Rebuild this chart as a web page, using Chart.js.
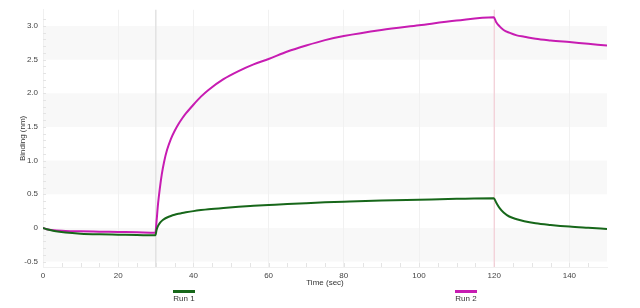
<!DOCTYPE html>
<html>
<head>
<meta charset="utf-8">
<script src="https://cdn.jsdelivr.net/npm/chart.js@4/dist/chart.umd.min.js"></script>
<style>
  html, body { margin: 0; padding: 0; background: #fff; }
  #wrap { width: 640px; height: 308px; position: relative; }
</style>
</head>
<body>
<div id="wrap"><canvas id="chart"></canvas></div>
<script>
//////////////// DATA
const timeSec = [0, 1, 3, 6, 10, 15, 20, 25, 29.9, 30.2, 30.6, 31.1, 31.6, 32.2, 33, 34, 35, 36, 37, 38, 40, 42, 44, 48, 52, 56, 60,
  65, 70, 75, 80, 90, 100, 110, 119.9, 120.5, 121.5, 122.5, 124, 126, 128, 131, 135, 140, 145, 150];

const run1 = [0, -0.02, -0.045, -0.068, -0.085, -0.095, -0.1, -0.105, -0.11, -0.03, 0.03, 0.075, 0.105, 0.13, 0.155, 0.178, 0.196,
  0.21, 0.222, 0.232, 0.25, 0.265, 0.278, 0.298, 0.315, 0.328, 0.34, 0.355, 0.368, 0.38, 0.39, 0.408, 0.42, 0.432, 0.44,
  0.38, 0.29, 0.23, 0.17, 0.13, 0.1, 0.07, 0.045, 0.02, 0.002, -0.015];

const run2 = [0, -0.02, -0.035, -0.045, -0.05, -0.055, -0.06, -0.065, -0.07, 0.1, 0.36, 0.6, 0.8, 0.98, 1.16, 1.32, 1.44,
  1.54, 1.625, 1.7, 1.83, 1.95, 2.05, 2.21, 2.33, 2.43, 2.51, 2.62, 2.71, 2.79, 2.85, 2.94, 3.01, 3.08, 3.13,
  3.06, 2.99, 2.94, 2.9, 2.86, 2.84, 2.81, 2.785, 2.76, 2.735, 2.71];

const seriesNames = ['Run 1', 'Run 2'];
const seriesColors = ['#17671a', '#c71cb2'];

const xTicks = [0, 20, 40, 60, 80, 100, 120, 140];
const yTicks = [-0.5, 0, 0.5, 1.0, 1.5, 2.0, 2.5, 3.0];
const markerTimes = [30, 120];
const markerColors = ['#e2e2e2', '#f3c6cf'];

//////////////// HELPERS
function toPoints(values) {
  return values.map((v, i) => ({ x: timeSec[i], y: v }));
}

const font = { family: 'Liberation Sans, Arial, sans-serif', size: 8 };

//////////////// PLUGINS
const backdrop = {
  id: 'backdrop',
  beforeDraw(chart) {
    const { ctx, chartArea, scales } = chart;
    const y = scales.y;
    ctx.save();
    ctx.fillStyle = '#f8f8f8';
    // grey bands between k-0.5 and k
    [3.0, 2.0, 1.0, 0].forEach(top => {
      const yTop = y.getPixelForValue(top);
      const yBot = y.getPixelForValue(top - 0.5);
      ctx.fillRect(chartArea.left, yTop, chartArea.right - chartArea.left, yBot - yTop);
    });
    ctx.restore();
  },
  beforeDatasetsDraw(chart) {
    const { ctx, chartArea, scales } = chart;
    const x = scales.x, y = scales.y;
    ctx.save();
    // minor ticks along the bottom and left edge
    ctx.strokeStyle = '#e4e4e4';
    ctx.lineWidth = 1;
    ctx.beginPath();
    for (let t = 5; t < 150; t += 5) {
      const px = Math.round(x.getPixelForValue(t)) + 0.5;
      ctx.moveTo(px, chartArea.bottom);
      ctx.lineTo(px, chartArea.bottom - 4);
    }
    for (let v = -0.5; v <= 3.2; v += 0.1) {
      const py = Math.round(y.getPixelForValue(v)) + 0.5;
      ctx.moveTo(chartArea.left, py);
      ctx.lineTo(chartArea.left + 3, py);
    }
    ctx.stroke();
    // step markers
    markerTimes.forEach((t, i) => {
      const px = x.getPixelForValue(t);
      ctx.strokeStyle = markerColors[i];
      ctx.lineWidth = i === 0 ? 1.5 : 1;
      ctx.beginPath();
      ctx.moveTo(px, chartArea.top);
      ctx.lineTo(px, chartArea.bottom);
      ctx.stroke();
    });
    ctx.restore();
  },
  afterDraw(chart) {
    // legend under the axis title, at 1/4 and 3/4 of the plot width
    const { ctx, chartArea } = chart;
    const w = chartArea.right - chartArea.left;
    ctx.save();
    seriesNames.forEach((name, i) => {
      const cx = chartArea.left + w * (i === 0 ? 0.25 : 0.75);
      ctx.fillStyle = seriesColors[i];
      ctx.fillRect(cx - 11, 290, 22, 3);
      ctx.fillStyle = '#333';
      ctx.font = '8px ' + font.family;
      ctx.textAlign = 'center';
      ctx.textBaseline = 'middle';
      ctx.fillText(name, cx, 299);
    });
    ctx.restore();
  }
};

//////////////// CHART
new Chart(document.getElementById('chart'), {
  type: 'line',
  data: {
    datasets: seriesNames.map((name, i) => ({
      label: name,
      data: toPoints(i === 0 ? run1 : run2),
      borderColor: seriesColors[i],
      borderWidth: 2,
      pointRadius: 0,
      cubicInterpolationMode: 'monotone',
      fill: false,
    })),
  },
  options: {
    responsive: true,
    maintainAspectRatio: false,
    animation: false,
    layout: { padding: { top: 8, right: 33, bottom: 20, left: 0 } },
    plugins: { legend: { display: false }, tooltip: { enabled: false } },
    scales: {
      x: {
        type: 'linear',
        min: 0,
        max: 150,
        afterBuildTicks: s => { s.ticks = xTicks.map(v => ({ value: v })); },
        afterFit: s => { s.height = 21; },
        ticks: { font, color: '#444', padding: 4, maxRotation: 0 },
        grid: { color: '#f1f1f1', drawTicks: false },
        border: { color: '#f0f0f0' },
        title: { display: true, text: 'Time (sec)', font, color: '#333', padding: 0 },
      },
      y: {
        min: -0.58,
        max: 3.24,
        afterBuildTicks: s => { s.ticks = yTicks.map(v => ({ value: v })); },
        afterFit: s => { s.width = 43; },
        ticks: {
          font, color: '#444', padding: 5,
          callback: v => (v === 0 ? '0' : v.toFixed(1)),
        },
        grid: { display: false, drawTicks: false },
        border: { color: '#f0f0f0' },
        title: { display: true, text: 'Binding (nm)', font, color: '#333', padding: { top: 18, bottom: 0 } },
      },
    },
  },
  plugins: [backdrop],
});
</script>
</body>
</html>
